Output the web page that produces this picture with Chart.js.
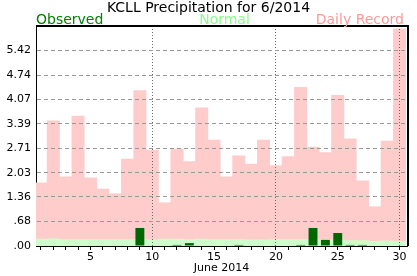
<!DOCTYPE html>
<html>
<head>
<meta charset="utf-8">
<script src="https://cdn.jsdelivr.net/npm/chart.js@4/dist/chart.umd.min.js"></script>
<style>
  body { margin: 0; background: #fff; }
</style>
</head>
<body>
<canvas id="precipChart" width="417" height="276"></canvas>
<script>
// precipitation for June 2014, inches
const days = [1,2,3,4,5,6,7,8,9,10,11,12,13,14,15,16,17,18,19,20,21,22,23,24,25,26,27,28,29,30];
const observed = [0,0,0,0,0,0,0,0,0.50,0,0,0.03,0.08,0,0,0,0.03,0,0,0,0,0.03,0.50,0.17,0.36,0.03,0.03,0,0,0];
const normal = [0.19,0.20,0.18,0.18,0.18,0.18,0.18,0.18,0.18,0.17,0.19,0.19,0.18,0.19,0.18,0.18,0.18,0.17,0.17,0.18,0.18,0.18,0.17,0.17,0.17,0.15,0.15,0.13,0.14,0.13];
const record = [1.75,3.47,1.92,3.60,1.89,1.58,1.45,2.41,4.31,2.66,1.20,2.69,2.34,3.83,2.94,1.92,2.50,2.27,2.94,2.23,2.48,4.40,2.74,2.59,4.18,2.97,1.81,1.09,2.91,6.02];
const yTicks = [0, 0.68, 1.36, 2.03, 2.71, 3.39, 4.07, 4.74, 5.42];
const yMax = 6.10;
const xLabelDays = [5, 10, 15, 20, 25, 30];

document.addEventListener("DOMContentLoaded", () => {

  // title + legend words, grid on top of bars, box on top/right
  const extras = {
    id: 'extras',
    afterDatasetsDraw(chart) {
      chart.scales.x.drawGrid(chart.chartArea);
      chart.scales.y.drawGrid(chart.chartArea);
    },
    afterDraw(chart) {
      const ctx = chart.ctx;
      const a = chart.chartArea;
      ctx.save();
      ctx.strokeStyle = '#000';
      ctx.lineWidth = 2;
      ctx.beginPath();
      ctx.moveTo(a.left, a.top);
      ctx.lineTo(a.right + 1, a.top);
      ctx.lineTo(a.right + 1, a.bottom);
      ctx.stroke();

      ctx.textBaseline = 'alphabetic';
      ctx.font = '14px "DejaVu Sans"';
      ctx.fillStyle = '#000';
      ctx.textAlign = 'center';
      ctx.fillText('KCLL Precipitation for 6/2014', chart.width / 2, 12);

      ctx.fillStyle = '#008000';
      ctx.textAlign = 'left';
      ctx.fillText('Observed', a.left, 24);
      ctx.fillStyle = '#88ff88';
      ctx.textAlign = 'center';
      ctx.fillText('Normal', (a.left + a.right) / 2 + 3, 24);
      ctx.fillStyle = '#ff9999';
      ctx.textAlign = 'right';
      ctx.fillText('Daily Record', a.right - 3, 24);
      ctx.restore();
    }
  };

  new Chart(document.querySelector('#precipChart'), {
    type: 'bar',
    data: {
      labels: days,
      datasets: [{
        label: 'Observed',
        data: days.map((d, i) => ({x: d, y: observed[i]})),
        backgroundColor: '#006600',
        grouped: false,
        barPercentage: 0.72,
        categoryPercentage: 1
      }, {
        label: 'Normal',
        data: days.map((d, i) => ({x: d, y: normal[i]})),
        backgroundColor: '#ccffcc',
        grouped: false,
        barPercentage: 1,
        categoryPercentage: 1
      }, {
        label: 'Daily Record',
        data: days.map((d, i) => ({x: d, y: record[i]})),
        backgroundColor: '#ffcccc',
        grouped: false,
        barPercentage: 1,
        categoryPercentage: 1
      }]
    },
    options: {
      responsive: false,
      animation: false,
      devicePixelRatio: 1,
      layout: { padding: { top: 26, right: 10, left: 0, bottom: 0 } },
      plugins: {
        legend: { display: false },
        title: { display: false },
        tooltip: { enabled: false }
      },
      scales: {
        x: {
          type: 'linear',
          min: 0.6,
          max: 30.6,
          offset: false,
          afterBuildTicks: scale => { scale.ticks = days.map(d => ({ value: d })); },
          afterFit: scale => { scale.height = 30; },
          ticks: {
            autoSkip: false,
            maxRotation: 0,
            padding: 1,
            color: '#000',
            font: { family: 'DejaVu Sans', size: 11 },
            callback: value => xLabelDays.includes(value) ? String(value) : ''
          },
          grid: {
            offset: false,
            color: c => (c.tick && c.tick.value % 10 === 0) ? '#666' : 'rgba(0,0,0,0)',
            tickColor: '#000',
            tickLength: 4
          },
          border: { color: '#000', dash: [1, 2] },
          title: {
            display: true,
            text: 'June 2014',
            color: '#000',
            font: { family: 'DejaVu Sans', size: 11 },
            padding: { top: 0, bottom: 1 }
          }
        },
        y: {
          min: 0,
          max: yMax,
          afterBuildTicks: scale => { scale.ticks = yTicks.map(v => ({ value: v })); },
          afterFit: scale => { scale.width = 36; },
          ticks: {
            padding: 5,
            color: '#000',
            font: { family: 'DejaVu Sans', size: 11 },
            callback: value => value.toFixed(2).replace(/^0/, '')
          },
          grid: {
            color: c => (c.tick && c.tick.value > 0) ? '#999' : 'rgba(0,0,0,0)',
            drawTicks: false
          },
          border: { color: '#000', dash: [4, 3] }
        }
      }
    },
    plugins: [extras]
  });

});
</script>
</body>
</html>
